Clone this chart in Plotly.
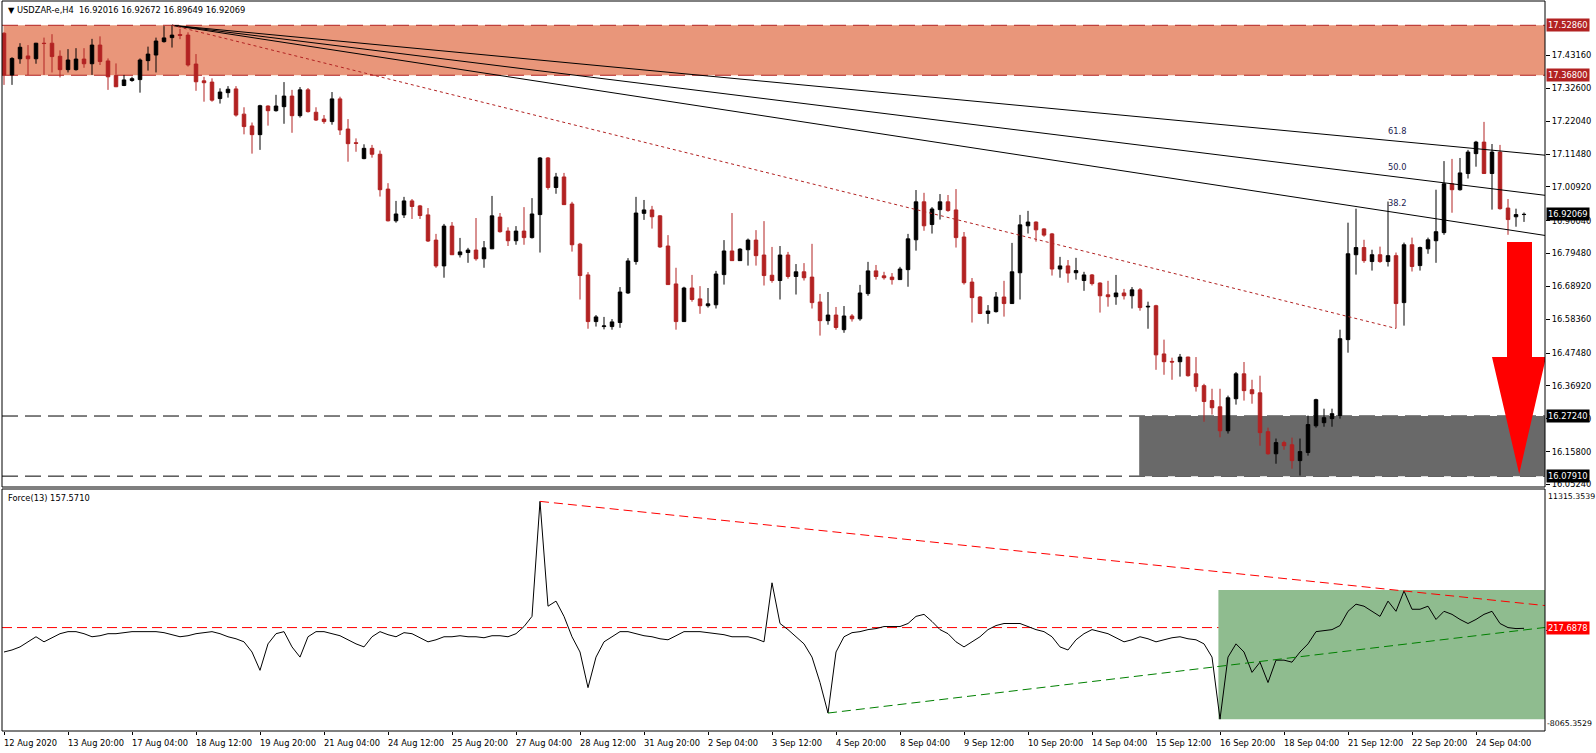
import plotly.graph_objects as go

# ---------------- data ----------------
bars = list(range(191))

opens = [17.503,17.369,17.421,17.430,17.421,17.471,17.471,17.429,17.386,17.386,
 17.420,17.405,17.465,17.414,17.367,17.335,17.351,17.354,17.415,17.433,
 17.476,17.489,17.499,17.497,17.404,17.350,17.346,17.293,17.312,17.324,
 17.243,17.205,17.177,17.269,17.254,17.267,17.301,17.238,17.321,17.249,
 17.227,17.219,17.292,17.195,17.151,17.100,17.133,17.114,17.002,16.900,
 16.919,16.964,16.948,16.919,16.838,16.755,16.883,16.791,16.798,16.806,
 16.778,16.810,16.912,16.867,16.836,16.867,16.846,16.920,17.102,17.007,
 17.041,16.954,16.825,16.726,16.576,16.560,16.560,16.573,16.668,16.769,
 16.924,16.935,16.916,16.819,16.697,16.576,16.684,16.649,16.627,16.630,
 16.727,16.803,16.772,16.807,16.838,16.790,16.725,16.708,16.790,16.721,
 16.736,16.719,16.639,16.579,16.597,16.550,16.594,16.585,16.666,16.739,
 16.723,16.719,16.711,16.743,16.839,16.961,16.888,16.936,16.961,16.935,
 16.848,16.703,16.655,16.602,16.608,16.655,16.634,16.733,16.884,16.896,
 16.874,16.858,16.745,16.755,16.733,16.708,16.726,16.700,16.662,16.656,
 16.668,16.659,16.678,16.623,16.627,16.472,16.448,16.447,16.462,16.408,
 16.370,16.322,16.302,16.225,16.328,16.408,16.357,16.347,16.222,16.151,
 16.187,16.180,16.129,16.155,16.241,16.251,16.264,16.274,16.518,16.791,
 16.814,16.769,16.791,16.769,16.788,16.637,16.823,16.756,16.810,16.836,
 16.862,17.019,17.000,17.052,17.116,17.153,17.052,17.121,16.941,16.913,
 16.92016]

highs = [17.506,17.426,17.471,17.465,17.472,17.489,17.500,17.448,17.452,17.455,
 17.455,17.485,17.493,17.422,17.406,17.369,17.363,17.422,17.460,17.489,
 17.526,17.5286,17.517,17.506,17.436,17.363,17.358,17.326,17.333,17.333,
 17.265,17.216,17.273,17.271,17.305,17.346,17.321,17.330,17.327,17.265,
 17.240,17.314,17.299,17.227,17.165,17.146,17.144,17.126,17.021,16.964,
 16.977,16.970,16.951,16.941,16.858,16.890,16.896,16.845,16.813,16.909,
 16.835,16.980,16.925,16.879,16.883,16.944,16.973,17.105,17.105,17.054,
 17.054,16.961,16.829,16.735,16.597,16.591,16.584,16.687,16.780,16.977,
 16.967,16.948,16.918,16.854,16.749,16.688,16.726,16.690,16.684,16.739,
 16.838,16.925,16.812,16.843,16.870,16.899,16.816,16.819,16.800,16.761,
 16.764,16.826,16.665,16.671,16.623,16.626,16.600,16.694,16.768,16.758,
 16.736,16.732,16.752,16.858,16.999,16.990,16.944,16.986,16.983,17.002,
 16.864,16.716,16.658,16.629,16.671,16.707,16.829,16.919,16.932,16.898,
 16.876,16.861,16.784,16.774,16.781,16.736,16.729,16.702,16.707,16.726,
 16.681,16.687,16.684,16.640,16.630,16.518,16.460,16.472,16.463,16.462,
 16.376,16.360,16.360,16.338,16.414,16.446,16.389,16.402,16.235,16.200,
 16.193,16.203,16.200,16.274,16.328,16.296,16.296,16.550,16.894,16.939,
 16.839,16.807,16.817,16.962,16.798,16.830,16.846,16.817,16.846,17.000,
 17.092,17.099,17.102,17.128,17.157,17.218,17.147,17.144,16.970,16.939,
 16.92672]

lows = [17.337,17.337,17.405,17.369,17.405,17.369,17.377,17.361,17.377,17.383,
 17.392,17.369,17.401,17.321,17.330,17.333,17.347,17.312,17.383,17.377,
 17.473,17.457,17.484,17.396,17.318,17.283,17.283,17.277,17.296,17.235,
 17.178,17.116,17.128,17.206,17.251,17.212,17.183,17.232,17.248,17.221,
 17.212,17.209,17.176,17.090,17.122,17.098,17.103,16.978,16.898,16.894,
 16.909,16.906,16.906,16.832,16.749,16.717,16.790,16.782,16.765,16.772,
 16.749,16.809,16.862,16.819,16.823,16.823,16.843,16.798,17.000,16.987,
 16.951,16.801,16.647,16.553,16.560,16.551,16.550,16.556,16.665,16.759,
 16.903,16.875,16.813,16.694,16.550,16.575,16.640,16.601,16.621,16.618,
 16.695,16.771,16.771,16.756,16.756,16.692,16.701,16.647,16.714,16.663,
 16.708,16.618,16.531,16.566,16.550,16.540,16.576,16.579,16.659,16.711,
 16.711,16.695,16.710,16.688,16.804,16.868,16.859,16.904,16.929,16.814,
 16.695,16.573,16.600,16.569,16.605,16.592,16.633,16.647,16.859,16.833,
 16.849,16.724,16.717,16.701,16.711,16.675,16.692,16.605,16.624,16.630,
 16.647,16.618,16.611,16.553,16.421,16.405,16.389,16.399,16.399,16.351,
 16.254,16.277,16.204,16.216,16.309,16.322,16.312,16.177,16.148,16.119,
 16.164,16.103,16.081,16.145,16.235,16.238,16.238,16.264,16.476,16.727,
 16.765,16.740,16.765,16.753,16.554,16.563,16.737,16.740,16.794,16.765,
 16.855,16.926,16.997,17.036,17.074,17.051,16.936,16.936,16.855,16.881,
 16.89649]

closes = [17.369,17.422,17.458,17.421,17.471,17.470,17.428,17.386,17.417,17.420,
 17.405,17.465,17.412,17.363,17.331,17.353,17.357,17.417,17.436,17.478,
 17.488,17.497,17.496,17.401,17.347,17.344,17.288,17.314,17.323,17.240,
 17.203,17.177,17.270,17.254,17.269,17.301,17.238,17.321,17.251,17.224,
 17.219,17.292,17.192,17.148,17.149,17.133,17.114,17.000,16.900,16.922,
 16.964,16.946,16.917,16.835,16.755,16.883,16.791,16.800,16.806,16.778,
 16.813,16.916,16.865,16.836,16.867,16.846,16.922,17.102,17.007,17.041,
 16.952,16.823,16.724,16.576,16.591,16.562,16.575,16.671,16.771,16.925,
 16.935,16.913,16.816,16.695,16.576,16.684,16.647,16.627,16.633,16.729,
 16.803,16.772,16.809,16.838,16.788,16.724,16.708,16.790,16.721,16.736,
 16.717,16.637,16.579,16.597,16.557,16.594,16.585,16.668,16.739,16.721,
 16.717,16.711,16.745,16.842,16.961,16.884,16.938,16.961,16.933,16.846,
 16.701,16.653,16.602,16.610,16.655,16.634,16.736,16.887,16.896,16.871,
 16.854,16.745,16.755,16.732,16.740,16.726,16.698,16.659,16.656,16.668,
 16.659,16.678,16.621,16.625,16.469,16.447,16.446,16.462,16.402,16.367,
 16.319,16.299,16.225,16.331,16.408,16.354,16.344,16.219,16.151,16.187,
 16.177,16.129,16.158,16.245,16.325,16.267,16.280,16.521,16.794,16.814,
 16.772,16.791,16.769,16.788,16.634,16.823,16.753,16.814,16.839,16.865,
 17.019,17.000,17.054,17.121,17.153,17.052,17.121,16.939,16.904,16.920,
 16.92069]

force = [-1739,-1576,-1331,-924,-517,-924,-598,-272,-109,-109,
 -272,-517,-435,-272,-272,-190,-109,-109,-109,-109,
 -190,-353,-517,-435,-272,-190,-109,-272,-517,-680,
 -924,-1739,-3206,-1087,-272,-109,-1331,-2147,-517,-109,
 -109,-272,-435,-761,-1087,-1331,-517,-109,-353,-517,
 -190,-272,-598,-924,-761,-517,-517,-435,-517,-517,
 -598,-435,-435,-517,-272,299,1114,10323,1929,2336,
 1114,-517,-1739,-4592,-2147,-924,-517,-109,-109,-272,
 -435,-517,-680,-761,-435,-109,-109,-109,-190,-272,
 -353,-517,-517,-517,-680,-924,3803,543,54,-517,
 -1087,-2147,-4184,-6629,-1739,-517,-190,-109,54,136,
 299,299,299,543,1114,1277,706,54,-272,-924,
 -1331,-924,-517,54,380,543,543,543,299,54,
 -109,-517,-1331,-1576,-761,-272,54,-109,-272,-598,
 -924,-761,-517,-680,-924,-761,-598,-517,-680,-761,
 -1087,-2147,-7118,-2147,-1087,-1739,-3369,-2554,-4184,-2391,
 -2391,-2554,-1739,-1087,-109,-28,54,380,1521,2091,
 1929,1521,1114,2336,1521,3151,1684,1684,1929,869,
 1521,1277,869,543,869,1277,1521,543,217,136,
 157.571]

tick_bars = [0,8,16,24,32,40,48,56,64,72,80,88,96,104,112,120,128,136,144,152,160,168,176,184]
tick_text = ["12 Aug 2020","13 Aug 20:00","17 Aug 04:00","18 Aug 12:00","19 Aug 20:00",
             "21 Aug 04:00","24 Aug 12:00","25 Aug 20:00","27 Aug 04:00","28 Aug 12:00",
             "31 Aug 20:00","2 Sep 04:00","3 Sep 12:00","4 Sep 20:00","8 Sep 04:00",
             "9 Sep 12:00","10 Sep 20:00","14 Sep 04:00","15 Sep 12:00","16 Sep 20:00",
             "18 Sep 04:00","21 Sep 12:00","22 Sep 20:00","24 Sep 04:00"]

price_ticks = [17.4316,17.3260,17.2204,17.1148,17.0092,16.9004,16.7948,16.6892,
               16.5836,16.4748,16.3692,16.2636,16.1580,16.0524]
price_tick_text = ["17.43160","17.32600","17.22040","17.11480","17.00920","16.90040",
                   "16.79480","16.68920","16.58360","16.47480","16.36920","16.26360",
                   "16.15800","16.05240"]

resist_top, resist_bot = 17.5286, 17.3680
support_top, support_bot = 16.2724, 16.0791
current_price = 16.92069
header = "USDZAR-e,H4  16.92016 16.92672 16.89649 16.92069"

fan_origin_bar, fan_end_bar = 21, 174
fan_ratios = [0.382, 0.5, 0.618]
fan_names = ["38.2", "50.0", "61.8"]

force_level = 217.6878
force_max, force_min = 11315.3539, -8065.3529
force_res_bars = [67, 175]          # descending resistance trend of Force
force_sup_bars = [103, 189]         # ascending support trend of Force
force_sup_vals = [-6629, -50]
force_zone = [-7128, 3227]

# ---------------- figure ----------------
FONT = "DejaVu Sans"
FS = 8.3
X0, X1 = -0.25, 192.625
RED = "#B22222"

fig = go.Figure()

fig.add_trace(go.Candlestick(
    x=bars, open=opens, high=highs, low=lows, close=closes,
    increasing=dict(line=dict(color="black", width=1), fillcolor="black"),
    decreasing=dict(line=dict(color=RED, width=1), fillcolor=RED),
    whiskerwidth=0, xaxis="x", yaxis="y", showlegend=False, hoverinfo="skip"))

# Fibonacci fan
h0 = highs[fan_origin_bar]
l1 = lows[fan_end_bar]
fan_labels = []
for r, name in zip(fan_ratios, fan_names):
    p = l1 + r * (h0 - l1)
    slope = (p - h0) / (fan_end_bar - fan_origin_bar)
    fig.add_trace(go.Scatter(
        x=[fan_origin_bar, X1], y=[h0, h0 + slope * (X1 - fan_origin_bar)],
        mode="lines", line=dict(color="black", width=1), xaxis="x", yaxis="y",
        showlegend=False, hoverinfo="skip"))
    fan_labels.append(dict(x=fan_end_bar - 1.25, y=p, xref="x", yref="y", text=name,
                           showarrow=False, xanchor="left", yanchor="bottom", yshift=3,
                           font=dict(family=FONT, size=FS, color="#1c1c50")))
fig.add_trace(go.Scatter(
    x=[fan_origin_bar, fan_end_bar], y=[h0, l1], mode="lines",
    line=dict(color=RED, width=1, dash="3px,3px"), xaxis="x", yaxis="y",
    showlegend=False, hoverinfo="skip"))

# Force index
fig.add_trace(go.Scatter(x=bars, y=force, mode="lines", line=dict(color="black", width=1),
                         xaxis="x", yaxis="y2", showlegend=False, hoverinfo="skip"))
a, b = force_res_bars
va, vb = force[a], force[b]
sl = (vb - va) / (b - a)
fig.add_trace(go.Scatter(x=[a, X1], y=[va, va + sl * (X1 - a)], mode="lines",
                         line=dict(color="#FF0000", width=1, dash="9px,5px"),
                         xaxis="x", yaxis="y2", showlegend=False, hoverinfo="skip"))
a, b = force_sup_bars
va, vb = force_sup_vals
sl = (vb - va) / (b - a)
fig.add_trace(go.Scatter(x=[a, X1], y=[va, va + sl * (X1 - a)], mode="lines",
                         line=dict(color="#008000", width=1, dash="9px,5px"),
                         xaxis="x", yaxis="y2", showlegend=False, hoverinfo="skip"))

shapes = []
shapes.append(dict(type="rect", xref="x domain", yref="y", x0=0.001, x1=1,
                   y0=resist_bot, y1=resist_top, fillcolor="#E9967A", line=dict(width=0),
                   layer="below"))
for lv in (resist_top, resist_bot):
    shapes.append(dict(type="line", xref="x domain", yref="y", x0=0, x1=1, y0=lv, y1=lv,
                       line=dict(color=RED, width=1, dash="16px,7px"), layer="below"))
shapes.append(dict(type="rect", xref="x", yref="y", x0=141.9, x1=X1 + 1,
                   y0=support_bot, y1=support_top, fillcolor="#696969", line=dict(width=0),
                   layer="below"))
for lv in (support_top, support_bot):
    shapes.append(dict(type="line", xref="x domain", yref="y", x0=0, x1=1, y0=lv, y1=lv,
                       line=dict(color="black", width=1, dash="16px,7px"), layer="below"))
shapes.append(dict(type="rect", xref="x", yref="y2", x0=151.8, x1=X1 + 1,
                   y0=force_zone[0], y1=force_zone[1], fillcolor="#8FBC8F",
                   line=dict(width=0), layer="below"))
shapes.append(dict(type="line", xref="x domain", yref="y2", x0=0, x1=1,
                   y0=force_level, y1=force_level,
                   line=dict(color="#FF0000", width=1, dash="10px,5px"), layer="below"))
shapes.append(dict(type="path", xref="x", yref="y",
                   path="M 187.875 16.832 L 191.0 16.832 L 191.0 16.462 L 192.75 16.462 "
                        "L 189.4 16.086 L 186.0 16.462 L 187.875 16.462 Z",
                   fillcolor="#FF0000", line=dict(width=0), layer="above"))
for yr in ("y domain", "y2 domain"):
    shapes.append(dict(type="rect", xref="x domain", yref=yr, x0=0, x1=1, y0=0, y1=1,
                       line=dict(color="black", width=1), fillcolor="rgba(0,0,0,0)",
                       layer="above"))

annotations = []
for tb, tt in zip(tick_bars, tick_text):
    annotations.append(dict(xref="x", yref="paper", x=tb, y=0, xanchor="left",
                            yanchor="top", xshift=-2, yshift=-5, showarrow=False, text=tt,
                            font=dict(family=FONT, size=FS, color="black")))
annotations += fan_labels

def box(val, txt, bg, yref="y"):
    annotations.append(dict(xref="paper", yref=yref, x=1, y=val, xanchor="left",
                            yanchor="middle", xshift=1, showarrow=False, text=txt,
                            bgcolor=bg, borderpad=1,
                            font=dict(family=FONT, size=FS, color="white")))
box(resist_top, "%.5f" % resist_top, RED)
box(resist_bot, "%.5f" % resist_bot, RED)
box(current_price, "%.5f" % current_price, "black")
box(support_top, "%.5f" % support_top, "black")
box(support_bot, "%.5f" % support_bot, "black")
box(force_level, "%.4f" % force_level, "#FF0000", "y2")
annotations.append(dict(xref="paper", yref="y2 domain", x=1, y=1, xanchor="left",
                        yanchor="top", xshift=1, yshift=-1, showarrow=False,
                        text="%.4f" % force_max, font=dict(family=FONT, size=7.8, color="black")))
annotations.append(dict(xref="paper", yref="y2 domain", x=1, y=0, xanchor="left",
                        yanchor="bottom", xshift=0, yshift=1, showarrow=False,
                        text="%.4f" % force_min, font=dict(family=FONT, size=7.8, color="black")))
annotations.append(dict(xref="x domain", yref="y domain", x=0, y=1, xanchor="left",
                        yanchor="top", xshift=4, yshift=-2, showarrow=False,
                        text="▼ " + header, font=dict(family=FONT, size=FS, color="black")))
annotations.append(dict(xref="x domain", yref="y2 domain", x=0, y=1, xanchor="left",
                        yanchor="top", xshift=4, yshift=-2, showarrow=False,
                        text="Force(13) %.4f" % force[-1],
                        font=dict(family=FONT, size=FS, color="black")))

H_TOTAL = 730.0
fig.update_layout(
    width=1596, height=753,
    margin=dict(l=2, r=51, t=1, b=22),
    paper_bgcolor="white", plot_bgcolor="white",
    boxgap=0.375,
    showlegend=False,
    shapes=shapes, annotations=annotations,
    xaxis=dict(range=[X0, X1], anchor="y2", showgrid=False, zeroline=False,
               rangeslider=dict(visible=False), tickvals=tick_bars,
               ticktext=[""] * len(tick_bars), ticks="outside", ticklen=3,
               tickcolor="black", showline=False, fixedrange=True),
    yaxis=dict(domain=[(731 - 487) / H_TOTAL, 1.0], range=[16.0442, 17.6067],
               side="right", anchor="x", showgrid=False, zeroline=False,
               tickvals=price_ticks, ticktext=price_tick_text, ticks="outside",
               ticklen=4, tickcolor="black",
               tickfont=dict(family=FONT, size=FS, color="black")),
    yaxis2=dict(domain=[0, (731 - 489) / H_TOTAL], range=[force_min, force_max],
                side="right", anchor="x", showgrid=False, zeroline=False,
                tickvals=[0], ticktext=["0.00"], ticks="outside", ticklen=4,
                tickcolor="black", tickfont=dict(family=FONT, size=FS, color="black")),
)

fig.write_html("out.html", config={"displayModeBar": False},
               post_script="document.body.style.margin='0px';"
                           "document.body.style.overflow='hidden';")
